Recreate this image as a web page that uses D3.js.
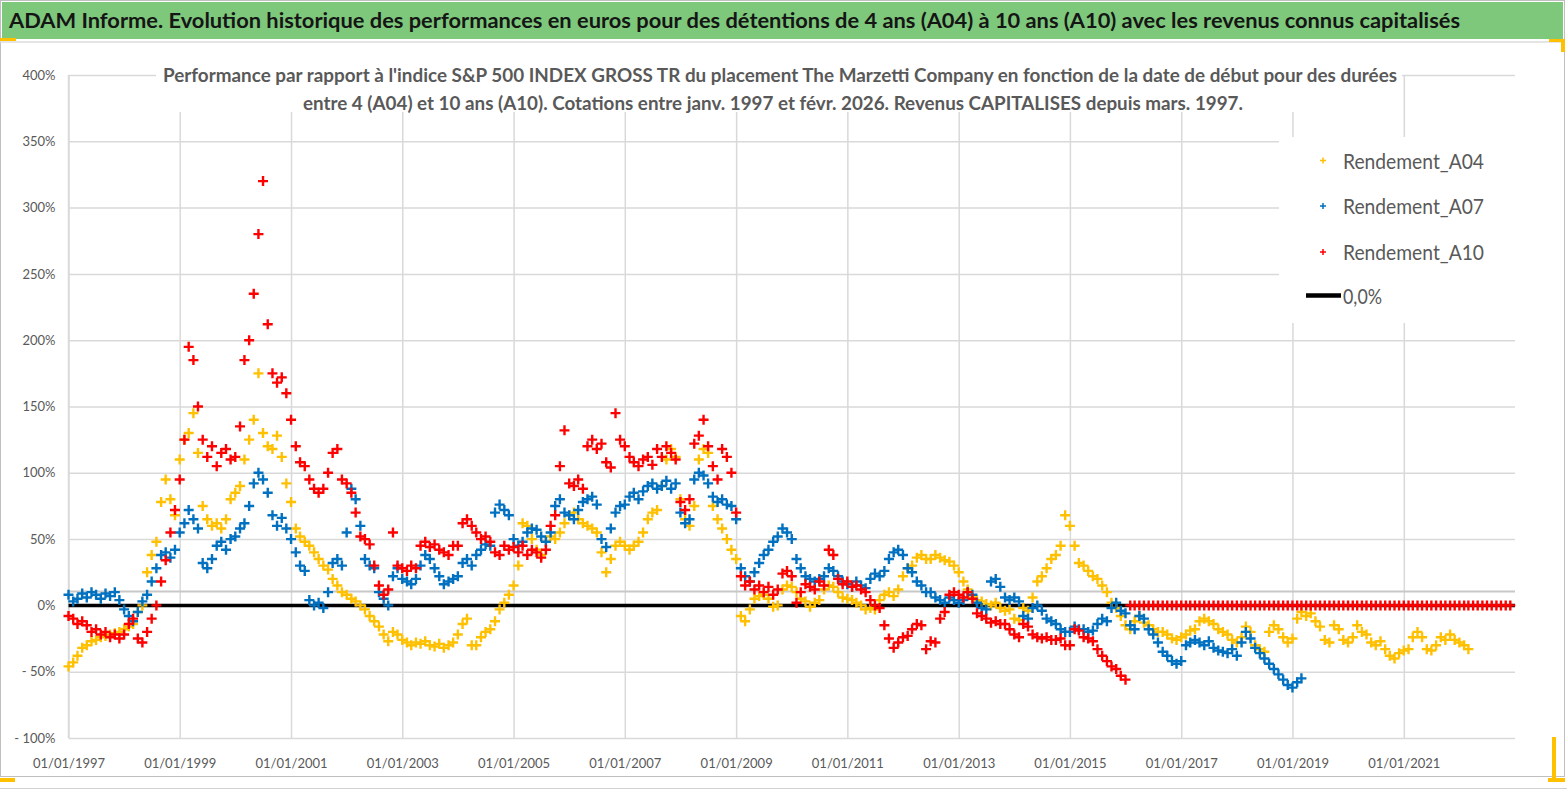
<!DOCTYPE html>
<html><head><meta charset="utf-8">
<script src="https://cdn.jsdelivr.net/npm/d3@7"></script>
<style>body{margin:0;background:#fff}svg{display:block}</style>
</head><body><svg id="c" width="1567" height="790"></svg>
<script>
// ---------- DATA (monthly readings, % vs index, start = Jan 1997) ----------
const seriesNames = ["Rendement_A04", "Rendement_A07", "Rendement_A10"];
const seriesColors = ["#FFC000", "#0070C0", "#FF0000"];
const firstYear = 1997;
const lastYear = 2023;

const a04 = [
 -46,-43,-38,-32,-30,-27,-26,-24,-23,-22,-21,-20,
 -18,-16,-14,-5,0,25,38,48,78,95,80,68,
 110,125,130,145,115,75,65,60,62,58,65,80,
 85,90,110,125,140,175,130,120,118,128,112,92,
 78,58,52,48,45,40,35,30,27,20,15,10,
 8,5,3,0,-3,-8,-12,-16,-22,-27,-20,-22,
 -26,-28,-30,-28,-29,-27,-30,-31,-29,-32,-30,-28,
 -22,-14,-10,-30,-30,-24,-20,-18,-12,-3,2,8,
 15,30,62,60,50,42,38,48,52,50,55,62,
 68,70,65,62,60,58,55,40,25,35,45,48,
 45,42,45,48,55,65,70,72,90,110,118,112,
 80,65,60,75,110,118,115,75,65,58,50,42,
 35,-8,-12,-3,5,7,8,5,-1,0,12,15,
 14,10,5,3,-1,2,4,12,15,14,10,6,
 5,4,2,0,-3,-2,-3,4,8,10,7,12,
 22,28,30,36,38,35,35,38,36,34,33,30,
 25,18,12,6,4,3,1,0,2,-2,-4,-3,
 -10,-11,-2,-4,6,18,22,28,35,38,45,68,
 60,45,32,30,26,22,20,15,10,2,-2,-8,
 -15,-18,-12,-8,-13,-15,-18,-20,-20,-22,-25,-26,
 -24,-22,-19,-18,-12,-10,-12,-14,-18,-20,-22,-26,
 -28,-24,-16,-20,-30,-33,-35,-20,-15,-18,-24,-28,
 -25,-10,-5,-8,-6,-12,-16,-26,-28,-15,-18,-26,
 -28,-24,-15,-20,-22,-28,-30,-27,-33,-38,-40,-36,
 -34,-33,-24,-20,-24,-33,-34,-30,-24,-26,-22,-26,
 -28,-30,-33
];

const a07 = [
 8,3,5,9,6,10,8,5,9,7,10,4,
 -3,-8,-12,-5,3,8,18,28,38,40,36,42,
 55,62,72,65,58,32,28,35,45,48,42,50,
 52,58,62,75,92,100,95,85,68,60,66,58,
 50,40,30,26,4,0,2,-2,10,32,35,30,
 55,88,80,60,35,30,28,10,5,0,22,28,
 20,18,16,20,30,38,35,28,22,16,18,20,
 22,32,35,30,38,42,46,45,70,76,72,68,
 50,45,48,55,58,57,52,48,55,75,80,70,
 68,65,72,78,80,82,76,50,44,58,70,75,
 76,82,85,80,86,90,92,88,90,94,88,92,
 70,62,65,95,100,98,92,82,78,80,76,75,
 65,28,22,18,25,32,38,42,48,52,58,55,
 50,35,28,22,20,18,20,22,28,26,22,18,
 16,14,18,15,13,20,24,22,26,35,40,42,
 38,28,25,18,15,10,10,6,4,2,6,4,
 2,4,10,8,2,-2,-3,18,20,14,6,4,
 6,3,-8,-10,-2,0,-4,-10,-12,-14,-18,-20,
 -20,-16,-18,-18,-20,-19,-14,-10,-12,-2,2,-4,
 -6,-15,-18,-8,-10,-18,-22,-28,-35,-38,-42,-44,
 -42,-30,-28,-26,-28,-30,-27,-32,-34,-35,-36,-33,
 -38,-28,-20,-25,-32,-36,-40,-44,-48,-52,-56,-60,
 -62,-58,-55
];

const a10 = [
 -8,-10,-14,-12,-15,-20,-18,-22,-20,-24,-22,-25,
 -22,-14,-10,-25,-28,-20,-10,0,18,34,55,72,
 95,125,195,185,150,125,112,120,105,115,118,110,
 112,135,185,200,235,280,320,212,175,168,172,160,
 140,120,108,105,95,88,85,88,100,115,118,95,
 92,85,70,52,50,46,30,15,8,12,55,30,
 28,26,30,28,45,48,44,46,42,40,38,45,
 45,62,65,60,55,50,52,48,40,38,45,42,
 44,40,45,38,42,40,36,42,60,68,105,132,
 92,90,95,88,120,125,118,122,108,104,145,125,
 120,112,108,105,110,112,106,118,112,120,115,110,
 78,72,80,122,128,140,120,105,95,118,112,100,
 70,22,15,18,12,15,10,14,8,12,24,26,
 22,2,10,16,14,12,18,15,42,38,20,16,
 18,14,15,12,10,4,0,-2,-15,-25,-32,-28,
 -24,-23,-18,-14,-15,-33,-27,-28,-10,-5,8,10,
 8,6,10,5,-6,-8,-10,-13,-12,-14,-14,-18,
 -22,-24,-14,-16,-22,-24,-25,-24,-26,-26,-25,-30,
 -30,-18,-19,-24,-25,-27,-33,-38,-42,-46,-48,-53,
 -56,
 0,0,0,0,0,0,0,0,0,0,0,
 0,0,0,0,0,0,0,0,0,0,0,0,
 0,0,0,0,0,0,0,0,0,0,0,0,
 0,0,0,0,0,0,0,0,0,0,0,0,
 0,0,0,0,0,0,0,0,0,0,0,0,
 0,0,0,0,0,0,0,0,0,0,0,0,
 0,0,0,0,0,0,0,0,0,0,0,0
];

const zeroLevel = 0;
const refLevel = 10.5;
const yTicks = [-100,-50,0,50,100,150,200,250,300,350,400];
const xTickYears = [1997,1999,2001,2003,2005,2007,2009,2011,2013,2015,2017,2019,2021];
const legendLabels = ["Rendement_A04","Rendement_A07","Rendement_A10","0,0%"];
const mainTitle = "ADAM Informe. Evolution historique des performances en euros pour des détentions de 4 ans (A04) à 10 ans (A10) avec les revenus connus capitalisés";
const subTitle1 = "Performance par rapport à l'indice S&P 500 INDEX GROSS TR  du placement The Marzetti Company en fonction de la date de début pour des durées";
const subTitle2 = "entre 4 (A04) et 10 ans (A10). Cotations entre janv. 1997 et févr. 2026. Revenus CAPITALISES depuis mars. 1997.";

// ---------- DRAW ----------
const svg = d3.select("#c");
const FONT = "Lato, 'Open Sans', sans-serif";
const L = 68.5, R = 1515, T = 75, B = 738;

svg.append("rect").attr("x",0).attr("y",0).attr("width",1567).attr("height",790).attr("fill","#fff");
svg.append("rect").attr("x",0.5).attr("y",0.5).attr("width",1564).attr("height",776)
  .attr("fill","none").attr("stroke","#bfbfbf").attr("stroke-width",1);
svg.append("line").attr("x1",0).attr("x2",1567).attr("y1",788.5).attr("y2",788.5).attr("stroke","#d0d0d0");
svg.append("rect").attr("x",2).attr("y",2).attr("width",1561).attr("height",37).attr("fill","#7ec87c");
svg.append("line").attr("x1",0).attr("x2",1565).attr("y1",42).attr("y2",42).attr("stroke","#dcdcdc").attr("stroke-width",1.5);
const Y = "#FFC000";
[[0,38,16,3],[1549,39,16,3],[1561,39,4,13],[0,778,15,4],[1548,778,17,4],[1552,737,4,45]]
  .forEach(r => svg.append("rect").attr("x",r[0]).attr("y",r[1]).attr("width",r[2]).attr("height",r[3]).attr("fill",Y));

svg.append("text").attr("x",9).attr("y",28).attr("font-family",FONT).attr("font-weight",700)
  .attr("font-size",21).attr("fill","#151515").attr("textLength",1451).attr("lengthAdjust","spacingAndGlyphs")
  .text(mainTitle);

const x = d3.scaleTime().domain([new Date(firstYear,0,1), new Date(lastYear,0,1)]).range([L,R]);
const y = d3.scaleLinear().domain([-100,400]).range([B,T]);
const dateOf = i => new Date(firstYear, i, 1);

const gy = svg.append("g").attr("transform",`translate(${L},0)`)
  .call(d3.axisLeft(y).tickValues(yTicks)
    .tickFormat(v => v < 0 ? "- " + Math.abs(v) + "%" : v + "%")
    .tickSize(-(R-L)).tickPadding(13));
gy.select(".domain").remove();
gy.selectAll(".tick line").attr("stroke","#d9d9d9").attr("stroke-width",1.5);
gy.selectAll(".tick text").attr("font-family",FONT).attr("font-size",13).attr("fill","#595959");

const gx = svg.append("g").attr("transform",`translate(0,${B})`)
  .call(d3.axisBottom(x).tickValues(xTickYears.map(yr => new Date(yr,0,1)))
    .tickFormat(d3.timeFormat("%d/%m/%Y")).tickSize(-(B-T)).tickPadding(21));
gx.select(".domain").remove();
gx.selectAll(".tick line").attr("stroke","#d9d9d9").attr("stroke-width",1.5);
gx.selectAll(".tick text").attr("font-family",FONT).attr("font-size",13).attr("fill","#595959");

svg.append("line").attr("x1",L).attr("x2",L).attr("y1",T).attr("y2",B).attr("stroke","#d9d9d9").attr("stroke-width",1.5);

svg.append("rect").attr("x",156).attr("y",58).attr("width",1246).attr("height",54).attr("fill","#fff");
svg.append("rect").attr("x",1279).attr("y",137).attr("width",R-1279+1).attr("height",186).attr("fill","#fff");

svg.append("line").attr("x1",L).attr("x2",R).attr("y1",y(refLevel)).attr("y2",y(refLevel))
  .attr("stroke","#c8c8c8").attr("stroke-width",2);
svg.append("line").attr("x1",L).attr("x2",R).attr("y1",y(zeroLevel)).attr("y2",y(zeroLevel))
  .attr("stroke","#000").attr("stroke-width",3.5);

const plus = s => `M${-s},0H${s}M0,${-s}V${s}`;
[a04, a07, a10].forEach((vals, k) => {
  svg.append("g").selectAll("path").data(vals).join("path")
    .attr("d", plus(5))
    .attr("transform", (v,i) => `translate(${x(dateOf(i))},${y(v)})`)
    .attr("fill","none").attr("stroke", seriesColors[k]).attr("stroke-width",2.4);
});

svg.append("text").attr("x",163).attr("y",82).attr("font-family",FONT).attr("font-weight",700)
  .attr("font-size",18).attr("fill","#595959").attr("textLength",1234).attr("lengthAdjust","spacingAndGlyphs")
  .text(subTitle1);
svg.append("text").attr("x",303).attr("y",109.5).attr("font-family",FONT).attr("font-weight",700)
  .attr("font-size",18).attr("fill","#595959").attr("textLength",940).attr("lengthAdjust","spacingAndGlyphs")
  .text(subTitle2);

const legY = [160.5, 206, 252, 295.5];
seriesNames.forEach((n,k) => {
  svg.append("path").attr("d", plus(3)).attr("transform",`translate(1323,${legY[k]})`)
    .attr("stroke", seriesColors[k]).attr("stroke-width",1.5).attr("fill","none");
  svg.append("text").attr("x",1343).attr("y",legY[k]+8).attr("font-family",FONT).attr("font-size",21)
    .attr("fill","#595959").attr("textLength",141).attr("lengthAdjust","spacingAndGlyphs").text(legendLabels[k]);
});
svg.append("line").attr("x1",1306).attr("x2",1341).attr("y1",legY[3]).attr("y2",legY[3]).attr("stroke","#000").attr("stroke-width",4.5);
svg.append("text").attr("x",1343).attr("y",legY[3]+8.5).attr("font-family",FONT).attr("font-size",21)
  .attr("fill","#595959").attr("textLength",39).attr("lengthAdjust","spacingAndGlyphs").text(legendLabels[3]);
</script></body></html>
